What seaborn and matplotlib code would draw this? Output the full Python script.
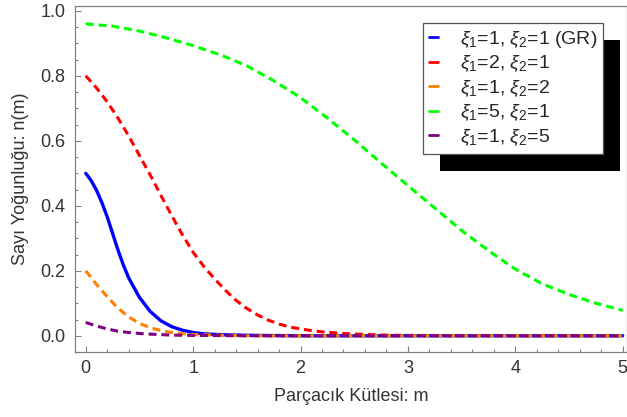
import matplotlib
matplotlib.use("Agg")
import matplotlib.pyplot as plt
from matplotlib.lines import Line2D
from matplotlib.patches import Rectangle
from matplotlib.ticker import MultipleLocator
from matplotlib.transforms import IdentityTransform
import seaborn as sns

# values
m_blue = [0, 0.05, 0.1, 0.15, 0.2, 0.25, 0.3, 0.35, 0.4, 0.5, 0.6, 0.7, 0.8, 0.9, 1.0,
          1.1, 1.2, 1.4, 1.6, 2.0, 5.0]
n_blue = [0.50, 0.478, 0.448, 0.410, 0.366, 0.315, 0.264, 0.218, 0.178, 0.118, 0.075,
          0.046, 0.028, 0.017, 0.010, 0.006, 0.004, 0.002, 0.001, 0.0, 0.0]

m_red = [0, 0.1, 0.2, 0.3, 0.4, 0.5, 0.6, 0.7, 0.8, 0.9, 1.0, 1.1, 1.2, 1.3, 1.4, 1.5,
         1.6, 1.7, 1.8, 1.9, 2.0, 2.1, 2.2, 2.4, 2.6, 2.8, 3.0, 5.0]
n_red = [0.80, 0.763, 0.72, 0.67, 0.615, 0.555, 0.495, 0.432, 0.370, 0.311, 0.257,
         0.213, 0.175, 0.140, 0.109, 0.084, 0.064, 0.048, 0.036, 0.027, 0.021, 0.016,
         0.012, 0.007, 0.004, 0.002, 0.001, 0.0]

m_orange = [0, 0.1, 0.2, 0.3, 0.4, 0.5, 0.6, 0.7, 0.8, 0.9, 1.0, 1.2, 1.5, 5.0]
n_orange = [0.20, 0.158, 0.12, 0.085, 0.058, 0.038, 0.025, 0.016, 0.010, 0.006, 0.004,
            0.002, 0.0, 0.0]

m_green = [0, 0.25, 0.5, 0.75, 1.0, 1.25, 1.5, 1.75, 2.0, 2.25, 2.5, 2.75, 3.0, 3.25,
           3.5, 3.75, 4.0, 4.25, 4.5, 4.75, 5.0]
n_green = [0.960, 0.953, 0.938, 0.917, 0.893, 0.865, 0.831, 0.785, 0.733, 0.670, 0.603,
           0.532, 0.462, 0.393, 0.324, 0.262, 0.205, 0.160, 0.127, 0.100, 0.078]

m_purple = [0, 0.1, 0.2, 0.3, 0.4, 0.5, 0.6, 0.8, 1.0, 1.5, 5.0]
n_purple = [0.041, 0.030, 0.021, 0.014, 0.010, 0.007, 0.005, 0.002, 0.001, 0.0, 0.0]

labels = [r'$\xi_1$=1, $\xi_2$=1 (GR)', r'$\xi_1$=2, $\xi_2$=1', r'$\xi_1$=1, $\xi_2$=2',
          r'$\xi_1$=5, $\xi_2$=1', r'$\xi_1$=1, $\xi_2$=5']
colors = ['#0000ff', '#ff0000', '#ff8000', '#00ff00', '#800080']

sns.set_theme(style="white")
plt.rcParams['font.family'] = ['Liberation Sans', 'DejaVu Sans']
plt.rcParams['mathtext.fontset'] = 'custom'
plt.rcParams['mathtext.rm'] = 'Liberation Sans'
plt.rcParams['mathtext.it'] = 'Liberation Sans:italic'

fig = plt.figure(figsize=(6.27, 4.17), dpi=100)
ax = fig.add_axes([75 / 627, 65 / 417, 552 / 627, 346 / 417])

dash = (0, (2.6, 1.6))
series = [(m_blue, n_blue, '-', 2.4), (m_red, n_red, dash, 2.2),
          (m_orange, n_orange, dash, 2.2), (m_green, n_green, dash, 2.2),
          (m_purple, n_purple, dash, 2.2)]
for (mx, ny, ls, lw), c in zip(series, colors):
    sns.lineplot(x=mx, y=ny, color=c, linestyle=ls, linewidth=lw, ax=ax,
                 estimator=None, sort=False)

ax.set_xlim(-0.1, 5.04)
ax.set_ylim(-0.05, 1.015)
ax.xaxis.set_major_locator(MultipleLocator(1))
ax.xaxis.set_minor_locator(MultipleLocator(0.2))
ax.yaxis.set_minor_locator(MultipleLocator(0.05))
ax.set_yticks([0.0, 0.2, 0.4, 0.6, 0.8, 1.0])
ax.set_yticklabels(['0.0', '0.2', '0.4', '0.6', '0.8', '1.0'])
ax.tick_params(which='both', direction='in', color='#808080', labelcolor='#333333',
               labelsize=13, bottom=True, left=True, top=False, right=False)
ax.tick_params(which='major', length=4, width=0.8)
ax.tick_params(which='minor', length=2.5, width=0.8)
ax.tick_params(axis='y', pad=7)
ax.tick_params(axis='x', pad=6)
for s in ax.spines.values():
    s.set_color('#808080')
    s.set_linewidth(0.9)

ax.set_xlabel('Parçacık Kütlesi: m', fontsize=13, color='#333333', labelpad=8)
ax.set_ylabel('Sayı Yoğunluğu: n(m)', fontsize=13, color='#333333', labelpad=8)

handles = [Line2D([], [], color=c, lw=2) for c in colors]
leg = ax.legend(handles, labels, loc='upper left', bbox_to_anchor=(423, 417 - 23),
                bbox_transform=IdentityTransform(), fontsize=14, frameon=True,
                fancybox=False, framealpha=1, edgecolor='#555555', handlelength=0.45,
                handletextpad=1.15, borderpad=0.3, labelspacing=0.2, borderaxespad=0)
leg.get_frame().set_linewidth(0.9)
leg.set_zorder(5)

fig.canvas.draw()
bb = leg.get_window_extent()
ax.add_patch(Rectangle((bb.x0 + 17, bb.y0 - 17), bb.width, bb.height,
                       transform=IdentityTransform(), facecolor='black',
                       edgecolor='none', zorder=4, clip_on=False))

fig.savefig('out.png', dpi=100)
